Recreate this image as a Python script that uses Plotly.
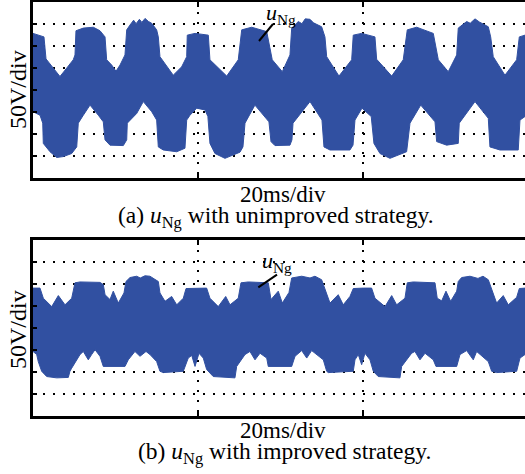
import plotly.graph_objects as go

# ---------------- data (time in ms, voltage in V) ----------------
# Panel (a): envelope of u_Ng with unimproved strategy
a_up_t = [0, 1.33, 1.58, 2.46, 3.27, 4.08, 4.88, 5.09, 5.21, 6.10, 7.31, 8.12, 8.73, 8.93, 9.54, 10.06,
          10.55, 11.15, 11.36, 11.76, 12.2, 12.5, 12.9, 13.2, 13.58, 14.0, 14.39, 14.99, 15.19, 15.39,
          17.0, 18.02, 18.63, 18.70, 19.64, 21.25, 21.45, 23.48, 24.88, 25.30, 26.51, 28.33, 29.0,
          30.22, 31.15, 31.36, 32.16, 32.6, 33.0, 33.58, 34.0, 34.99, 35.39, 35.6, 37.09, 38.63,
          38.82, 39.84, 41.45, 41.66, 43.48, 44.88, 45.37, 46.51, 48.52, 49.13, 50.34, 51.36, 51.55,
          52.57, 53.0, 53.58, 54.1, 55.19, 55.48, 55.79, 57.21, 58.63, 58.95, 59.64]
a_up_v = [128, 120, 70, 49, 30, 49, 68, 79, 134, 140, 142, 134, 120, 68, 56, 42,
          56, 79, 136, 147, 158, 150, 160, 153, 162, 155, 151, 136, 120, 75,
          33, 52, 75, 124, 128, 124, 68, 31, 68, 136, 142, 132, 68,
          41, 79, 140, 155, 150, 161, 160, 152, 143, 120, 75, 31, 68,
          124, 128, 120, 69, 31, 68, 136, 142, 128, 68, 41, 79, 140,
          155, 151, 161, 154, 143, 120, 75, 33, 68, 120, 124]
a_lo_t = [0, 0.85, 1.18, 1.25, 2.06, 2.87, 3.67, 4.69, 5.30, 5.49, 6.10, 6.91, 7.92, 8.52, 8.73,
          9.33, 10.95, 11.36, 11.43, 12.57, 13.37, 14.39, 14.99, 15.19, 15.79, 17.42, 18.42, 18.63,
          19.03, 19.84, 20.85, 21.2, 21.45, 22.06, 23.27, 25.09, 25.45, 25.7, 26.9, 28.6, 28.85,
          29.33, 31.15, 31.39, 31.52, 33.58, 35.03, 35.27, 36.0, 38.42, 38.79, 39.03, 39.88, 41.0,
          41.33, 42.06, 43.27, 45.29, 45.70, 47.0, 48.73, 48.93, 50.14, 51.55, 51.67, 53.58, 55.19,
          55.39, 56.6, 58.82, 59.03, 59.64]
a_lo_v = [-50, -58, -76, -122, -141, -154, -152, -145, -130, -76, -58, -35, -58, -73, -114,
          -126, -127, -114, -76, -54, -27, -50, -69, -130, -137, -141, -133, -69,
          -58, -42, -46, -61, -122, -145, -156, -142, -130, -76, -35, -73, -118,
          -127, -126, -114, -76, -27, -69, -130, -137, -137, -126, -69, -42, -61,
          -122, -145, -156, -141, -76, -35, -73, -118, -126, -122, -76, -27, -65,
          -130, -137, -137, -69, -61]

# Panel (b): envelope of u_Ng with improved strategy
b_up_t = [0, 0.85, 1.25, 2.27, 3.07, 3.88, 4.69, 5.09, 5.70, 8.12, 8.52, 8.73, 9.33, 9.73, 10.34,
          11.03, 11.27, 11.76, 12.57, 13.0, 13.58, 14.18, 15.19, 15.39, 16.0, 16.81, 17.42, 18.22,
          18.55, 19.84, 21.05, 21.45, 22.46, 23.36, 23.88, 24.88, 25.21, 26.1, 28.52, 28.85, 29.73,
          30.22, 31.03, 31.36, 32.57, 33.58, 34.18, 34.99, 35.52, 36.0, 37.0, 37.61, 38.42, 38.82,
          40.04, 41.05, 41.45, 42.67, 43.48, 44.08, 45.09, 45.37, 46.1, 48.73, 49.0, 49.54, 50.06,
          50.63, 51.36, 51.55, 51.96, 52.97, 53.94, 54.55, 55.19, 55.72, 56.2, 57.0, 57.61, 58.63,
          58.95, 59.64]
b_up_v = [90, 90, 67, 48, 73, 52, 67, 102, 104, 103, 98, 75, 64, 83, 56,
          79, 105, 114, 117, 113, 118, 117, 105, 79, 60, 71, 52, 67,
          89, 90, 90, 67, 48, 71, 52, 67, 102, 104, 102, 64, 83,
          56, 80, 113, 117, 113, 117, 109, 83, 56, 75, 52, 71, 89,
          90, 90, 67, 48, 73, 52, 67, 102, 104, 102, 67, 61, 83,
          60, 83, 105, 114, 117, 112, 117, 109, 79, 56, 73, 52, 69,
          89, 90]
b_lo_t = [0, 0.45, 0.64, 1.05, 1.66, 2.87, 4.28, 4.48, 4.69, 5.70, 6.10, 6.70, 7.11, 7.52, 8.12,
          8.52, 11.15, 11.55, 12.36, 12.97, 13.7, 14.18, 14.99, 15.39, 15.79, 18.22, 18.82, 19.24,
          19.64, 20.12, 20.64, 21.05, 21.85, 24.48, 24.69, 25.7, 26.3, 26.91, 27.52, 28.33, 28.52,
          31.36, 31.76, 32.57, 33.18, 33.78, 35.19, 35.6, 35.79, 38.82, 39.03, 39.43, 39.84, 40.24,
          40.85, 41.25, 41.85, 44.48, 44.69, 45.9, 46.3, 46.91, 47.52, 48.52, 48.85, 51.36, 51.76,
          52.57, 53.37, 53.78, 55.19, 55.6, 56.2, 58.63, 59.03, 59.64]
b_lo_v = [-54, -61, -77, -99, -111, -114, -113, -99, -92, -61, -54, -73, -61, -50, -65,
          -88, -88, -73, -54, -65, -54, -61, -77, -99, -102, -99, -69, -63,
          -88, -58, -69, -95, -111, -114, -88, -61, -54, -73, -58, -69, -88,
          -88, -65, -52, -69, -52, -73, -99, -102, -99, -73, -61, -84, -58,
          -73, -99, -111, -114, -88, -58, -54, -73, -58, -73, -88, -88, -61,
          -52, -73, -54, -77, -99, -102, -99, -69, -61]

x_ticks = [20, 40]                       # 20 ms/div
y_ticks = [-150, -100, -50, 0, 50, 100, 150]  # 50 V/div
x_range = [0, 59.64]
y_range = [-200, 200]

captions = ["(a) <i>u</i><sub>Ng</sub> with unimproved strategy.",
            "(b) <i>u</i><sub>Ng</sub> with improved strategy."]
ylab = "50V/div"
xlab = "20ms/div"
sig_label = "<i>u</i><sub>Ng</sub>"

# ---------------- figure ----------------
W, H = 525, 474
BLUE = "#3150A1"
FONT = "Liberation Serif"


def px(x):
    return x / W


def py(y):
    return 1 - y / H


def band(ut, uv, lt, lv, xa, ya):
    return go.Scatter(x=list(ut) + list(lt)[::-1], y=list(uv) + list(lv)[::-1],
                      fill="toself", fillcolor=BLUE, mode="lines",
                      line=dict(color=BLUE, width=1), xaxis=xa, yaxis=ya,
                      hoverinfo="skip", showlegend=False)


fig = go.Figure()
fig.add_trace(band(a_up_t, a_up_v, a_lo_t, a_lo_v, "x", "y"))
fig.add_trace(band(b_up_t, b_up_v, b_lo_t, b_lo_v, "x2", "y2"))

grid = dict(showgrid=True, gridcolor="black", griddash="2px,8px", gridwidth=1.6,
            zeroline=False, showticklabels=False, showline=True, linecolor="black",
            linewidth=2.5, ticks="inside", tickcolor="black", tickwidth=1.5)

xa = dict(grid, domain=[px(33), 1], range=x_range, tickvals=x_ticks, mirror="ticks", ticklen=6)
ya = dict(grid, range=y_range, tickvals=y_ticks, mirror=False, ticklen=4)

fig.update_layout(
    width=W, height=H, margin=dict(l=0, r=0, t=0, b=0),
    paper_bgcolor="white", plot_bgcolor="white",
    xaxis=dict(xa, anchor="y"),
    yaxis=dict(ya, anchor="x", domain=[py(177.7), py(1.7)]),
    xaxis2=dict(xa, anchor="y2"),
    yaxis2=dict(ya, anchor="x2", domain=[py(415.7), py(239.7)]),
    font=dict(family=FONT, color="black"),
)

ann = []
for i, (yc, ycap, yx) in enumerate([(90, 217, 194), (330, 453, 430)]):
    ann.append(dict(text=ylab, x=px(18), y=py(yc), xref="paper", yref="paper", textangle=-90,
                    showarrow=False, xanchor="center", yanchor="middle", font=dict(size=24)))
    ann.append(dict(text=xlab, x=px(283), y=py(yx), xref="paper", yref="paper",
                    showarrow=False, xanchor="center", yanchor="middle", font=dict(size=23)))
    ann.append(dict(text=captions[i], x=px(276 if i == 0 else 284), y=py(ycap), xref="paper", yref="paper",
                    showarrow=False, xanchor="center", yanchor="middle", font=dict(size=23.5)))

ann.append(dict(text=sig_label, x=px(281), y=py(14), xref="paper", yref="paper",
                showarrow=False, xanchor="center", yanchor="middle", font=dict(size=22)))
ann.append(dict(text=sig_label, x=px(277), y=py(262), xref="paper", yref="paper",
                showarrow=False, xanchor="center", yanchor="middle", font=dict(size=22)))
fig.update_layout(annotations=ann)

fig.add_shape(type="line", xref="paper", yref="paper", x0=px(273), y0=py(24), x1=px(259), y1=py(41),
              line=dict(color="black", width=2))
fig.add_shape(type="line", xref="paper", yref="paper", x0=px(277), y0=py(274.7), x1=px(258.3), y1=py(287.3),
              line=dict(color="black", width=2))

fig.write_html("out.html", config={"displayModeBar": False},
               post_script="document.body.style.margin='0';document.body.style.overflow='hidden';")
